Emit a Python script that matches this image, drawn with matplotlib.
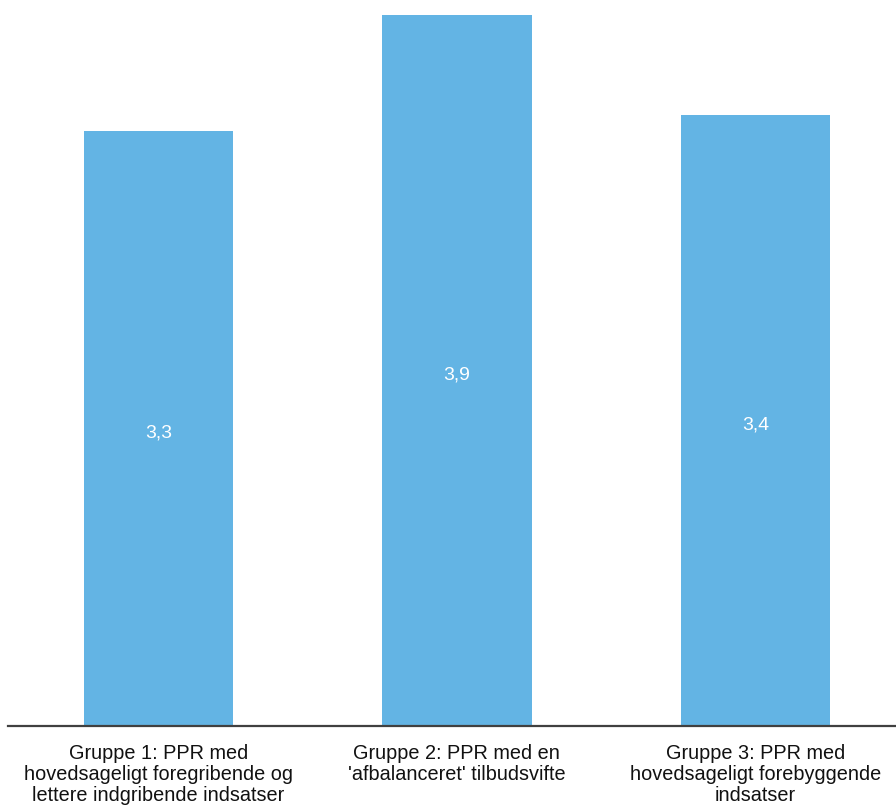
import matplotlib
matplotlib.use("Agg")
import matplotlib.pyplot as plt

# data
grupper = ["Gruppe 1: PPR med\nhovedsageligt foregribende og\nlettere indgribende indsatser",
           "Gruppe 2: PPR med en\n'afbalanceret' tilbudsvifte",
           "Gruppe 3: PPR med\nhovedsageligt forebyggende\nindsatser"]
vaerdier = [3.28, 3.915, 3.366]
etiketter = ["3,3", "3,9", "3,4"]

plt.rcParams['font.family'] = ['Liberation Sans', 'DejaVu Sans']

fig = plt.figure(figsize=(8.96, 8.05), dpi=100)
ax = fig.add_axes([8/896, 79/805, 1 - 8/896, 726/805])

x = range(len(grupper))
bars = ax.bar(x, vaerdier, width=0.5, color="#63b4e4")

for b, lab in zip(bars, etiketter):
    ax.annotate(lab, (b.get_x() + b.get_width()/2, b.get_height()/2),
                xytext=(0, -3), textcoords="offset points",
                ha="center", va="center", color="white", fontsize=14)

ax.set_xlim(-0.504, 2.471)
ax.set_ylim(0, 4.0)
ax.set_xticks(list(x))
ax.set_xticklabels(grupper, fontsize=14.3, linespacing=1.12, color="#111111")
ax.tick_params(axis="x", length=0, pad=13)
ax.set_yticks([])
for s in ["top", "right", "left"]:
    ax.spines[s].set_visible(False)
ax.spines["bottom"].set_color("#404040")
ax.spines["bottom"].set_linewidth(1.6)

fig.savefig("out.png", dpi=100)
